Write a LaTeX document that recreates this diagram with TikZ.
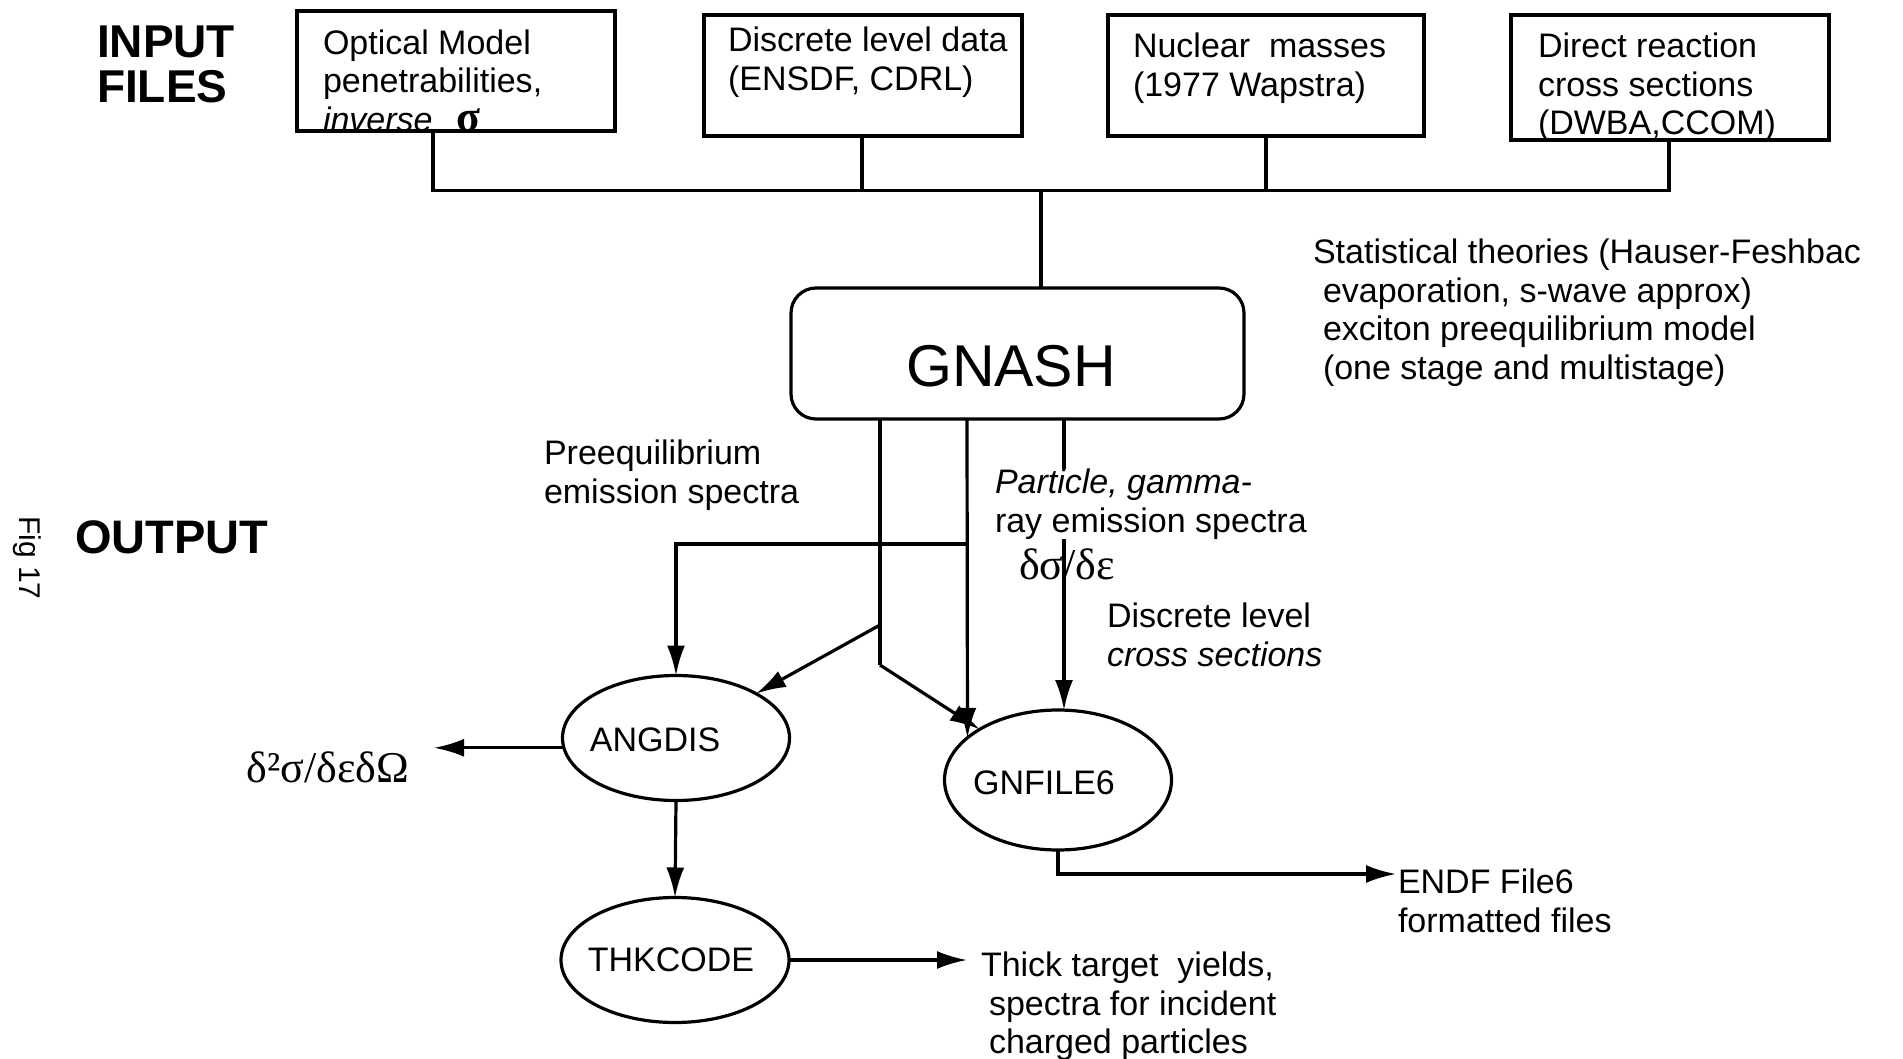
\documentclass[tikz,border=0pt]{standalone}
\usepackage{fontspec}
\setmainfont{Liberation Sans}
\newfontfamily\grk{Liberation Serif}
\usetikzlibrary{arrows.meta,shapes.geometric}
\begin{document}
\begin{tikzpicture}[x=1pt,y=-1pt,
  every node/.style={inner sep=0pt,outer sep=0pt},
  ln/.style={line width=3.2pt},
  arr/.style={line width=3.2pt,-{Latex[length=30pt,width=18pt]}},
  fbox/.style={draw,line width=3.2pt,anchor=north west},
  prog/.style={ellipse,draw,line width=3.2pt},
  txt/.style={font=\fontsize{34}{38.5}\selectfont,align=left,anchor=north west},
  hdr/.style={font=\fontsize{46}{45}\bfseries\selectfont,align=left,anchor=north west},
  prgtxt/.style={font=\fontsize{34}{38.5}\selectfont},
  grtxt/.style={font=\grk\fontsize{44}{44}\selectfont}
]
\fill[white] (0,0) rectangle (1903,1059);
\useasboundingbox (0,0) rectangle (1903,1059);

% headings
\node[hdr] (inp) at (97,26) {INPUT\\FILES};
\node[hdr,font=\fontsize{47}{47}\bfseries\selectfont] (outp) at (75,521) {OUTPUT};
\node[font=\fontsize{30}{30}\selectfont,rotate=-90] (fig) at (27,558) {Fig 17};

% input files
\node[fbox,minimum width=318pt,minimum height=120pt] (b1) at (297,11) {};
\node[fbox,minimum width=318pt,minimum height=121pt] (b2) at (704,15) {};
\node[fbox,minimum width=316pt,minimum height=121pt] (b3) at (1108,15) {};
\node[fbox,minimum width=318pt,minimum height=125pt] (b4) at (1511,15) {};
\node[txt] (t1) at (323,29.5) {Optical Model\\penetrabilities,\\{\itshape inverse}\hspace{24pt}{\grk\bfseries\fontsize{44}{38.5}\selectfont σ}};
\node[txt] (t2) at (728,27) {Discrete level data\\(ENSDF, CDRL)};
\node[txt] (t3) at (1133,33) {Nuclear~ masses\\(1977 Wapstra)};
\node[txt] (t4) at (1538,33) {Direct reaction\\cross sections\\(DWBA,CCOM)};

% GNASH
\node[draw,ln,rounded corners=25pt,minimum width=453pt,minimum height=131pt] (gnash) at (1017.5,353.5) {};
\node[font=\fontsize{59}{59}\selectfont] (gnashlbl) at (1011,366) {GNASH};
\node[txt] (stat) at (1313,239) {Statistical theories (Hauser-Feshbac\\\hspace*{10pt}evaporation, s-wave approx)\\\hspace*{10pt}exciton preequilibrium model\\\hspace*{10pt}(one stage and multistage)};

% programs
\node[prog,minimum width=227pt,minimum height=125pt] (angdis) at (676,738) {};
\node[prgtxt] (angdislbl) at (655,740) {ANGDIS};
\node[prog,minimum width=227pt,minimum height=140pt] (gnfile) at (1058,780) {};
\node[prgtxt] (gnfilelbl) at (1044,783) {GNFILE6};
\node[prog,minimum width=228pt,minimum height=125pt] (thk) at (675,960) {};
\node[prgtxt] (thklbl) at (671,960) {THKCODE};

% bus
\coordinate (d1) at (433,190.5);
\coordinate (d2) at (862,190.5);
\coordinate (d3) at (1266,190.5);
\coordinate (d4) at (1669,190.5);
\coordinate (tr) at (1041,190.5);
\draw[ln] (b1.south -| d1) -- (d1) -- (d4) -- (b4.south -| d4);
\draw[ln] (b2.south -| d2) -- (d2);
\draw[ln] (b3.south -| d3) -- (d3);
\draw[ln] (tr) -- (gnash.north -| tr);

% outputs of GNASH
\coordinate (ca) at (880,665);
\coordinate (cab) at (880,625);
\coordinate (cb) at (967,544);
\coordinate (cc) at (1064,419);
\draw[ln] (gnash.south -| ca) -- (ca);
\draw[arr] (ca) -- (gnfile);
\draw[arr] (cab) -- (angdis);
\draw[arr] (gnash.south -| cb) -- (gnfile.155);
\draw[arr] (cb) -| (angdis.north);
\draw[arr] (gnash.south -| cc) -- (gnfile.north -| cc);

% labels
\node[txt] (preq) at (544,440) {Preequilibrium\\emission spectra};
\node[txt,fill=white] (part) at (995,469) {{\itshape Particle, gamma-}\\ray emission spectra};
\node[grtxt,anchor=west] (dse) at (1019,564) {δσ/δε};
\node[txt] (disc) at (1107,603) {Discrete level\\{\itshape cross sections}};

% downstream
\node[grtxt,anchor=east] (dsig) at (409,767) {δ²σ/δεδΩ};
\coordinate (dsigtip) at (434,749);
\draw[arr] (angdis.185) -- (angdis.185 -| dsigtip);
\draw[arr] (angdis.south) -- (thk.north);
\coordinate (thkout) at (967,960);
\draw[arr] (thk.east) -- (thkout);
\node[txt] (thick) at (981,952) {Thick target~ yields,\\\hspace*{8pt}spectra for incident\\\hspace*{8pt}charged particles};
\coordinate (endfout) at (1396,874);
\draw[arr] (gnfile.south) |- (endfout);
\node[txt] (endf) at (1398,869) {ENDF File6\\formatted files};
\end{tikzpicture}
\end{document}
